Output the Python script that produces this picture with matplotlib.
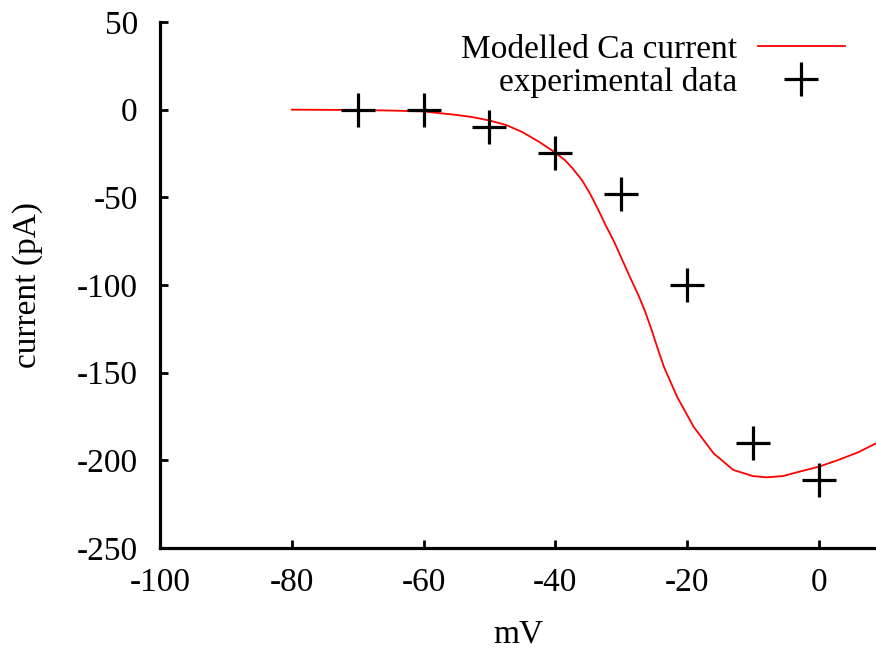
import matplotlib
matplotlib.use('Agg')
import matplotlib.pyplot as plt

exp_mv = [-70, -60, -50, -40, -30, -20, -10, 0]
exp_pa = [0, 0, -10, -25, -48, -100, -190, -211]

# modelled Ca current
model_mv = [-80, -70, -65, -60, -57.5, -55, -52.5, -50, -47.5, -45, -42.5, -40,
            -38.5, -37.5, -36, -34.8, -33.5, -32.5, -31, -30, -28.5, -27.5, -26.5, -25.5,
            -24.5, -23.5, -21.5, -19, -16, -13, -10, -8, -5.5, -3, 0, 3, 6, 8.65]
model_pa = [0, -0.2, -0.5, -1.0, -2.0, -3.0, -4.3, -6.2, -8.7, -12.8, -18.3, -24.5,
            -29, -33, -40, -47.5, -57, -65, -76, -84.5, -97, -105, -114, -124.5,
            -136, -147, -164, -181, -196, -205.5, -209, -209.7, -209, -206.5, -203.6,
            -199.7, -195.3, -190.3]

plt.rcParams['font.family'] = ['Liberation Serif', 'DejaVu Serif']
plt.rcParams['font.size'] = 24
plt.rcParams['axes.unicode_minus'] = False

fig = plt.figure(figsize=(8.76, 6.48), dpi=100)
ax = fig.add_axes([160/876, 100/648, 1 - 160/876, 526/648])

ax.plot(model_mv, model_pa, '-', color='red', lw=1.3, label='Modelled Ca current')
ax.plot(exp_mv, exp_pa, '+', color='black', ms=24, mew=2.3, label='experimental data')

ax.set_xlim(-100, 8.65)
ax.set_ylim(-250, 50)
ax.set_xticks([-100, -80, -60, -40, -20, 0])
ax.set_yticks([-250, -200, -150, -100, -50, 0, 50])
ax.spines['top'].set_visible(False)
ax.spines['right'].set_visible(False)
ax.spines['left'].set_linewidth(2.3)
ax.spines['bottom'].set_linewidth(2.3)
ax.tick_params(direction='in', length=6, width=2)
ax.tick_params(axis='x', pad=14)
ax.tick_params(axis='y', pad=16)
ax.set_xlabel('mV', labelpad=15)
ax.set_ylabel('current (pA)')
ax.yaxis.set_label_coords(-0.163, 0.5)

ax.legend(loc='upper right', bbox_to_anchor=(0.998, 1.033), frameon=False,
          markerfirst=False, handlelength=2.6, labelspacing=0.05, handletextpad=0.63)

fig.savefig('out.png', dpi=100)
